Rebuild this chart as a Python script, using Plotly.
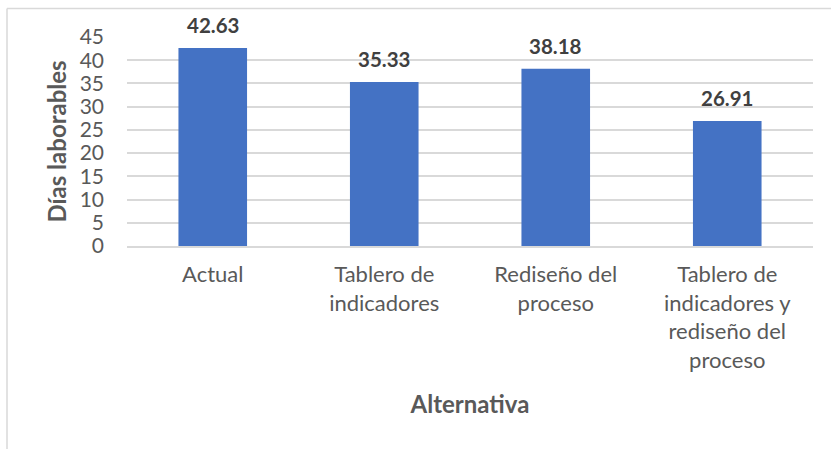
import plotly.graph_objects as go

categories = ["Actual", "Tablero de<br>indicadores", "Rediseño del<br>proceso",
              "Tablero de<br>indicadores y<br>rediseño del<br>proceso"]
values = [42.63, 35.33, 38.18, 26.91]
y_ticks = [0, 5, 10, 15, 20, 25, 30, 35, 40, 45]

FONT = "Lato"
fig = go.Figure()
fig.add_trace(go.Bar(x=categories, y=values, marker=dict(color="#4472C4", line=dict(width=0)),
                     width=0.4, hoverinfo="skip"))

for c, v in zip(categories, values):
    fig.add_annotation(x=c, y=v, text=f"<b>{v:.2f}</b>", showarrow=False, yanchor="bottom",
                       yshift=9, font=dict(family=FONT, size=20.5, color="#404040"))

L, R, T, B = 127, 18, 37, 203
W, H = 831, 449
pw, ph = W - L - R, H - T - B
px = lambda x: (x - L) / pw
py = lambda y: (H - B - y) / ph
border = dict(color="#D9D9D9", width=1.5)
fig.add_shape(type="line", xref="paper", yref="paper", x0=px(7), x1=px(840), y0=py(8.5), y1=py(8.5), line=border)
fig.add_shape(type="line", xref="paper", yref="paper", x0=px(7), x1=px(7), y0=py(8.5), y1=py(460), line=border)

fig.update_layout(
    width=W, height=H, margin=dict(l=L, r=R, t=T, b=B),
    paper_bgcolor="white", plot_bgcolor="white", showlegend=False,
    bargap=0.6,
    font=dict(family=FONT, color="#595959", size=21),
    xaxis=dict(type="category", showgrid=False, showline=True, linecolor="#D9D9D9", linewidth=1.5,
               ticks="", tickfont=dict(size=22, color="#595959"), ticklabelstandoff=8,
               title=dict(text="<b>Alternativa</b>", font=dict(size=24, color="#595959"), standoff=24)),
    yaxis=dict(range=[0, 45], tickvals=y_ticks, showgrid=True, gridcolor="#D9D9D9", gridwidth=1.5,
               zeroline=False, showline=False, ticks="", ticklabelstandoff=22,
               tickfont=dict(size=21, color="#595959"),
               title=dict(text="<b>Días laborables</b>", font=dict(size=24, color="#595959"), standoff=6)),
)
fig.write_html("out.html")
